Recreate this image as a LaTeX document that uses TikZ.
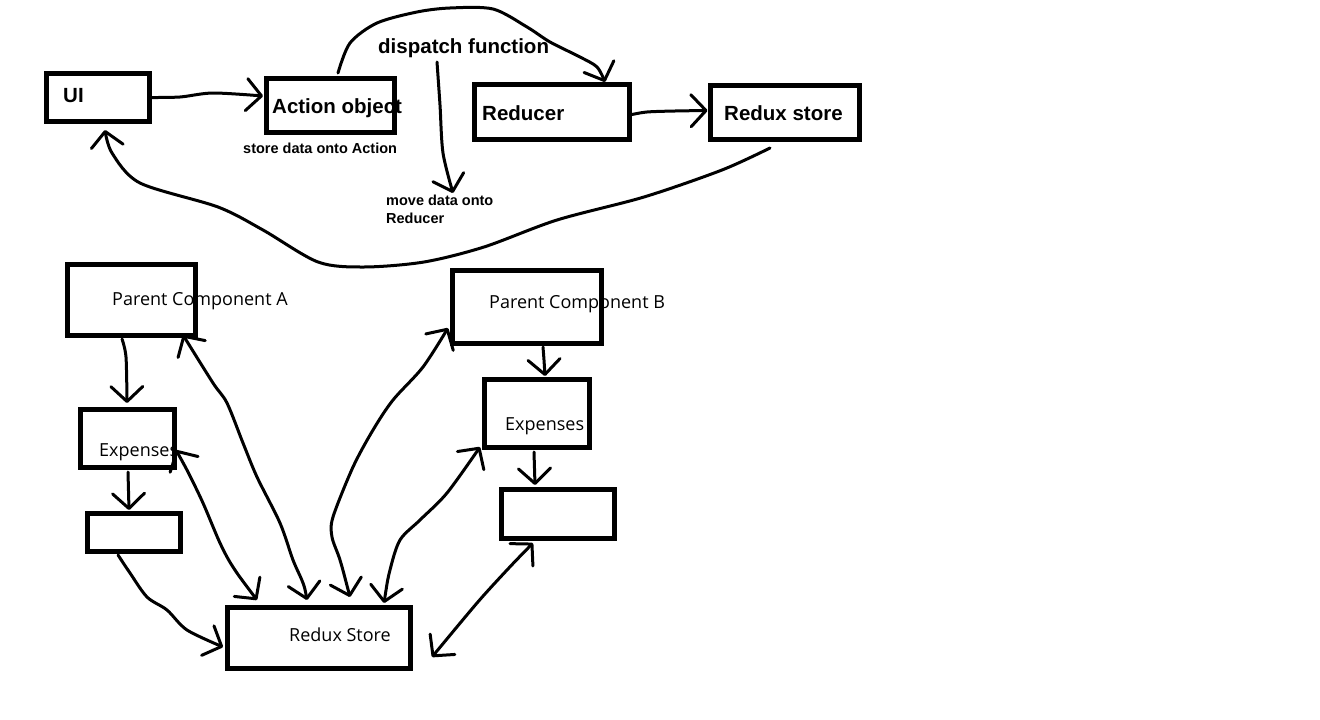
\documentclass[tikz,border=0pt]{standalone}
\usepackage{fontspec}
\setmainfont{Liberation Sans}
\newfontfamily\lowfont{Open Sans}
\usetikzlibrary{arrows.meta}
\begin{document}
\begin{tikzpicture}[x=1pt,y=-1pt,
  box/.style={draw,line width=5pt,inner sep=0pt,outer sep=0pt},
  conn/.style={line width=3pt,line cap=round,line join=round},
  >={Straight Barb[length=15pt,width=32pt,line cap=round,line join=round]},
  tb/.style={inner sep=0pt,anchor=base west,font=\fontsize{20.5}{24}\selectfont\bfseries},
  sl/.style={inner sep=0pt,anchor=base west,font=\fontsize{14.5}{17}\selectfont\bfseries},
  lo/.style={inner sep=0pt,anchor=base west,font=\lowfont\fontsize{18}{21}\selectfont},
  dp/.style={inner sep=0pt,anchor=base west,font=\fontsize{20.5}{24}\selectfont\bfseries}]
\fill[white] (0,0) rectangle (1320,720);
\useasboundingbox (0,0) rectangle (1320,720);

% texts
\node[tb] (tui) at (63,102) {UI};
\node[tb] (tact) at (272,113) {Action object};
\node[sl] (sto) at (243,153) {store data onto Action};
\node[tb] (tred) at (482,120) {Reducer};
\node[tb] (trst) at (724,120) {Redux store};
\node[dp] (disp) at (378,53) {dispatch function};
\node[sl] (mv1) at (386,205) {move data onto};
\node[sl] (mv2) at (386,223) {Reducer};
\node[lo] (tpca) at (112,305) {Parent Component A};
\node[lo] (tstore) at (289,641) {Redux Store};
\node[lo] (tpcb) at (489,308) {Parent Component B};
\node[lo] (texpb) at (505,430) {Expenses};

% boxes
\node[box,minimum width=103pt,minimum height=48pt] (ui) at (98,97.5) {};
\node[box,minimum width=128pt,minimum height=54pt] (act) at (330.5,105.5) {};
\node[box,minimum width=155pt,minimum height=55pt] (red) at (552,112) {};
\node[box,minimum width=149pt,minimum height=54pt] (rst) at (785,112.5) {};
\node[box,minimum width=128pt,minimum height=71pt] (pca) at (131.5,300) {};
\node[box,minimum width=94pt,minimum height=58pt] (expa) at (127.5,438.5) {};
\node[box,minimum width=93pt,minimum height=38pt] (empa) at (134,532.5) {};
\node[box,minimum width=183pt,minimum height=61pt] (store) at (319,638) {};
\node[box,minimum width=149pt,minimum height=73pt] (pcb) at (527,307) {};
\node[box,minimum width=105pt,minimum height=68pt] (expb) at (537,413.5) {};
\node[box,minimum width=113pt,minimum height=49pt] (empb) at (558,514) {};
\node[lo] (texpa) at (99,456) {Expenses};

% top connectors
\draw[conn,->] plot[smooth] coordinates {(ui.east) (180,97) (213,93) ([shift={(-67.5,-9.5)}]act.center)};
\draw[conn,->] plot[smooth] coordinates {([shift={(7.5,-32.5)}]act.center) (350,43) (377,23) (417,12) (450,8) (493,9) (527,27) (550,42) (580,57) (597,67) ([shift={(53,-30)}]red.center)};
\draw[conn,->] plot[smooth] coordinates {([shift={(59,9)}]disp.base west) (440,105) (443,153) ([shift={(67,-12)}]mv1.base west)};
\draw[conn,->] plot[smooth] coordinates {([shift={(0,3)}]red.east) (647,112) (675,111) ([shift={(-3,-2)}]rst.west)};
\draw[conn,->] plot[smooth] coordinates {([shift={(-15,35.5)}]rst.center) (722,170) (644,197) (557,220) (484,247) (424,262) (364,267) (318,262) (263,230) (218,207) (140,183) (112,153) ([shift={(7,32.5)}]ui.center)};

% lower connectors
\draw[conn,->] plot[smooth] coordinates {([shift={(-9.5,39)}]pca.center) (126,357) ([shift={(-0.5,-35.5)}]expa.center)};
\draw[conn,->] ([shift={(0.5,33.5)}]expa.center) -- ([shift={(-5,-22.5)}]empa.center);
\draw[conn,->] plot[smooth] coordinates {([shift={(-16,22.5)}]empa.center) (130,573) (147,597) (167,610) (187,630) ([shift={(-96,9)}]store.center)};
\draw[conn,<->] plot[smooth] coordinates {([shift={(-12,-38)}]store.center) (303,583) (293,560) (280,523) (257,477) (243,443) (227,403) (213,383) ([shift={(51.5,35)}]pca.center)};
\draw[conn,<->] plot[smooth] coordinates {([shift={(-62,-38)}]store.center) (233,567) (220,543) (203,503) (188,472) ([shift={(48.5,11.5)}]expa.center)};
\draw[conn,<->] plot[smooth] coordinates {([shift={(31,-41)}]store.center) (340,560) (332,537) (333,517) (353,467) (373,430) (393,400) (423,367) ([shift={(-79,21)}]pcb.center)};
\draw[conn,<->] plot[smooth] coordinates {([shift={(65,-35)}]store.center) (390,570) (400,540) (420,520) (447,493) ([shift={(-57,33.5)}]expb.center)};
\draw[conn,->] plot[smooth] coordinates {([shift={(16,40)}]pcb.center) (544,360) ([shift={(8,-37.5)}]expb.center)};
\draw[conn,->] ([shift={(-3,38.5)}]expb.center) -- ([shift={(-23,-29)}]empb.center);
\draw[conn,<->] plot[smooth] coordinates {([shift={(-25,29)}]empb.center) (507,570) (477,603) ([shift={(113,19)}]store.center)};
\end{tikzpicture}
\end{document}
